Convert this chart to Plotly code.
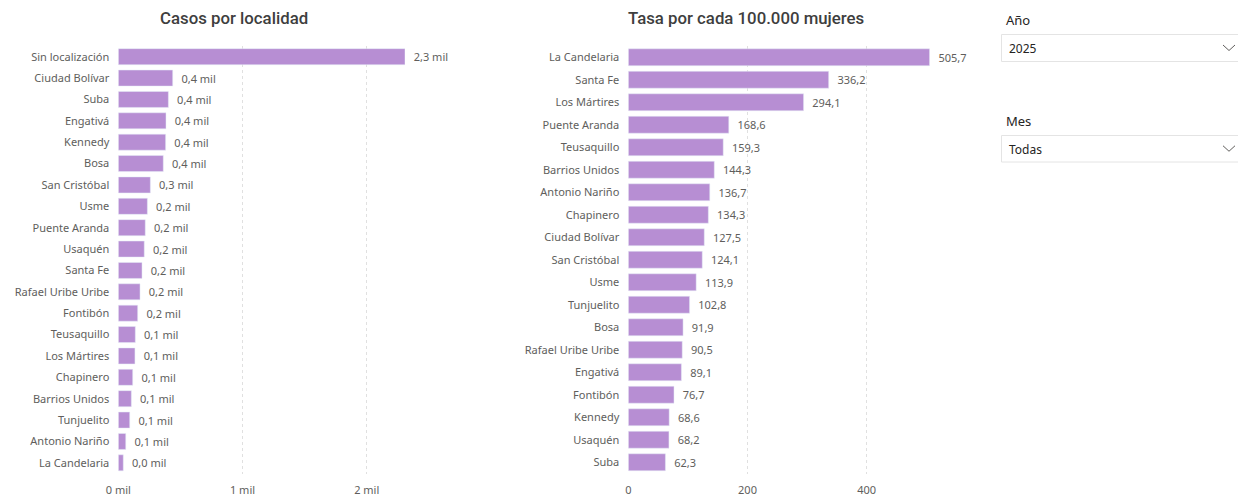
import plotly.graph_objects as go

W, H = 1238, 497

# ---- Data ----
loc_casos = ["Sin localización", "Ciudad Bolívar", "Suba", "Engativá", "Kennedy", "Bosa",
             "San Cristóbal", "Usme", "Puente Aranda", "Usaquén", "Santa Fe",
             "Rafael Uribe Uribe", "Fontibón", "Teusaquillo", "Los Mártires", "Chapinero",
             "Barrios Unidos", "Tunjuelito", "Antonio Nariño", "La Candelaria"]
casos = [2308, 438, 403, 384, 381, 362, 258, 234, 217, 209, 191, 175, 156, 137, 134,
         116, 105, 92, 60, 40]

loc_tasa = ["La Candelaria", "Santa Fe", "Los Mártires", "Puente Aranda", "Teusaquillo",
            "Barrios Unidos", "Antonio Nariño", "Chapinero", "Ciudad Bolívar",
            "San Cristóbal", "Usme", "Tunjuelito", "Bosa", "Rafael Uribe Uribe",
            "Engativá", "Fontibón", "Kennedy", "Usaquén", "Suba"]
tasa = [505.7, 336.2, 294.1, 168.6, 159.3, 144.3, 136.7, 134.3, 127.5, 124.1, 113.9,
        102.8, 91.9, 90.5, 89.1, 76.7, 68.6, 68.2, 62.3]

casos_ticks = [0, 1000, 2000]
casos_ticktext = ["0 mil", "1 mil", "2 mil"]
tasa_ticks = [0, 200, 400]

BAR = "#B78ED3"
GRAY = "#605E5C"
DARK = "#252423"
FONT = "Segoe UI, Noto Sans, sans-serif"


def px(x):
    return x / W


def py(y):
    return 1 - y / H


def fmt_mil(v):
    return "\u00a0\u00a0" + f"{v/1000:.1f}".replace(".", ",") + " mil"


def fmt_dec(v):
    return "\u00a0\u00a0" + f"{v:.1f}".replace(".", ",")


fig = go.Figure()
fig.add_trace(go.Bar(
    x=casos, y=loc_casos, orientation="h", marker_color=BAR,
    text=[fmt_mil(v) for v in casos], textposition="outside", cliponaxis=False,
    constraintext="none", textfont=dict(color=GRAY, size=11, family=FONT),
    xaxis="x", yaxis="y", hoverinfo="skip"))
fig.add_trace(go.Bar(
    x=tasa, y=loc_tasa, orientation="h", marker_color=BAR,
    text=[fmt_dec(v) for v in tasa], textposition="outside", cliponaxis=False,
    constraintext="none", textfont=dict(color=GRAY, size=11, family=FONT),
    xaxis="x2", yaxis="y2", hoverinfo="skip"))

ydom = [py(473.5), py(46)]
common_x = dict(showgrid=True, gridcolor="#E0E0E0", griddash="dot", gridwidth=1,
                zeroline=False, showline=False, automargin=False, ticklabelstandoff=8,
                tickfont=dict(color=GRAY, size=11, family=FONT), fixedrange=True)
common_y = dict(autorange="reversed", showgrid=False, zeroline=False, showline=False,
                automargin=False, ticklabelstandoff=8,
                tickfont=dict(color=GRAY, size=11, family=FONT),
                fixedrange=True, type="category")

fig.update_layout(
    width=W, height=H, margin=dict(l=0, r=0, t=0, b=0, autoexpand=False),
    paper_bgcolor="white", plot_bgcolor="white", showlegend=False,
    bargap=0.25,
    xaxis=dict(domain=[px(118.3), px(405)], range=[0, max(casos)],
               tickvals=casos_ticks, ticktext=casos_ticktext, anchor="y", **common_x),
    yaxis=dict(domain=ydom, anchor="x", **common_y),
    xaxis2=dict(domain=[px(628.3), px(929.7)], range=[0, max(tasa)],
                tickvals=tasa_ticks, anchor="y2", **common_x),
    yaxis2=dict(domain=ydom, anchor="x2", **common_y),
)

annotations = [
    dict(text="Casos por localidad", x=px(234.2), y=py(18)),
    dict(text="Tasa por cada 100.000 mujeres", x=px(746.3), y=py(18)),
]
for a in annotations:
    a.update(xref="paper", yref="paper", showarrow=False, xanchor="center", yanchor="middle",
             font=dict(family="Roboto, sans-serif", size=16.8, color="#3E3E3E", weight=500))

slicers = [("Año", "2025", 20, 34.5, 61.5), ("Mes", "Todas", 121, 135.5, 162)]
shapes = []
for label, value, ly, by0, by1 in slicers:
    annotations.append(dict(text=label, x=px(1004), y=py(ly), xref="paper", yref="paper",
                            showarrow=False, xanchor="left", yanchor="middle",
                            font=dict(family=FONT, size=13, color=DARK)))
    annotations.append(dict(text=value, x=px(1007), y=py((by0 + by1) / 2 + 1), xref="paper",
                            yref="paper", showarrow=False, xanchor="left", yanchor="middle",
                            font=dict(family=FONT, size=12, color=DARK)))
    shapes.append(dict(type="rect", xref="paper", yref="paper", x0=px(1001.5), x1=px(1245),
                       y0=py(by1), y1=py(by0), line=dict(color="#E4E4E4", width=1),
                       fillcolor="rgba(0,0,0,0)"))
    cy = (by0 + by1) / 2
    path = (f"M {px(1223)} {py(cy - 3)} L {px(1229)} {py(cy + 2.5)} "
            f"L {px(1235)} {py(cy - 3)}")
    shapes.append(dict(type="path", xref="paper", yref="paper", path=path,
                       line=dict(color="#605E5C", width=1)))

fig.update_layout(annotations=annotations, shapes=shapes)

fig.write_html("out.html", config={"displayModeBar": False},
               post_script="document.body.style.margin='0';document.body.style.overflow='hidden';")
